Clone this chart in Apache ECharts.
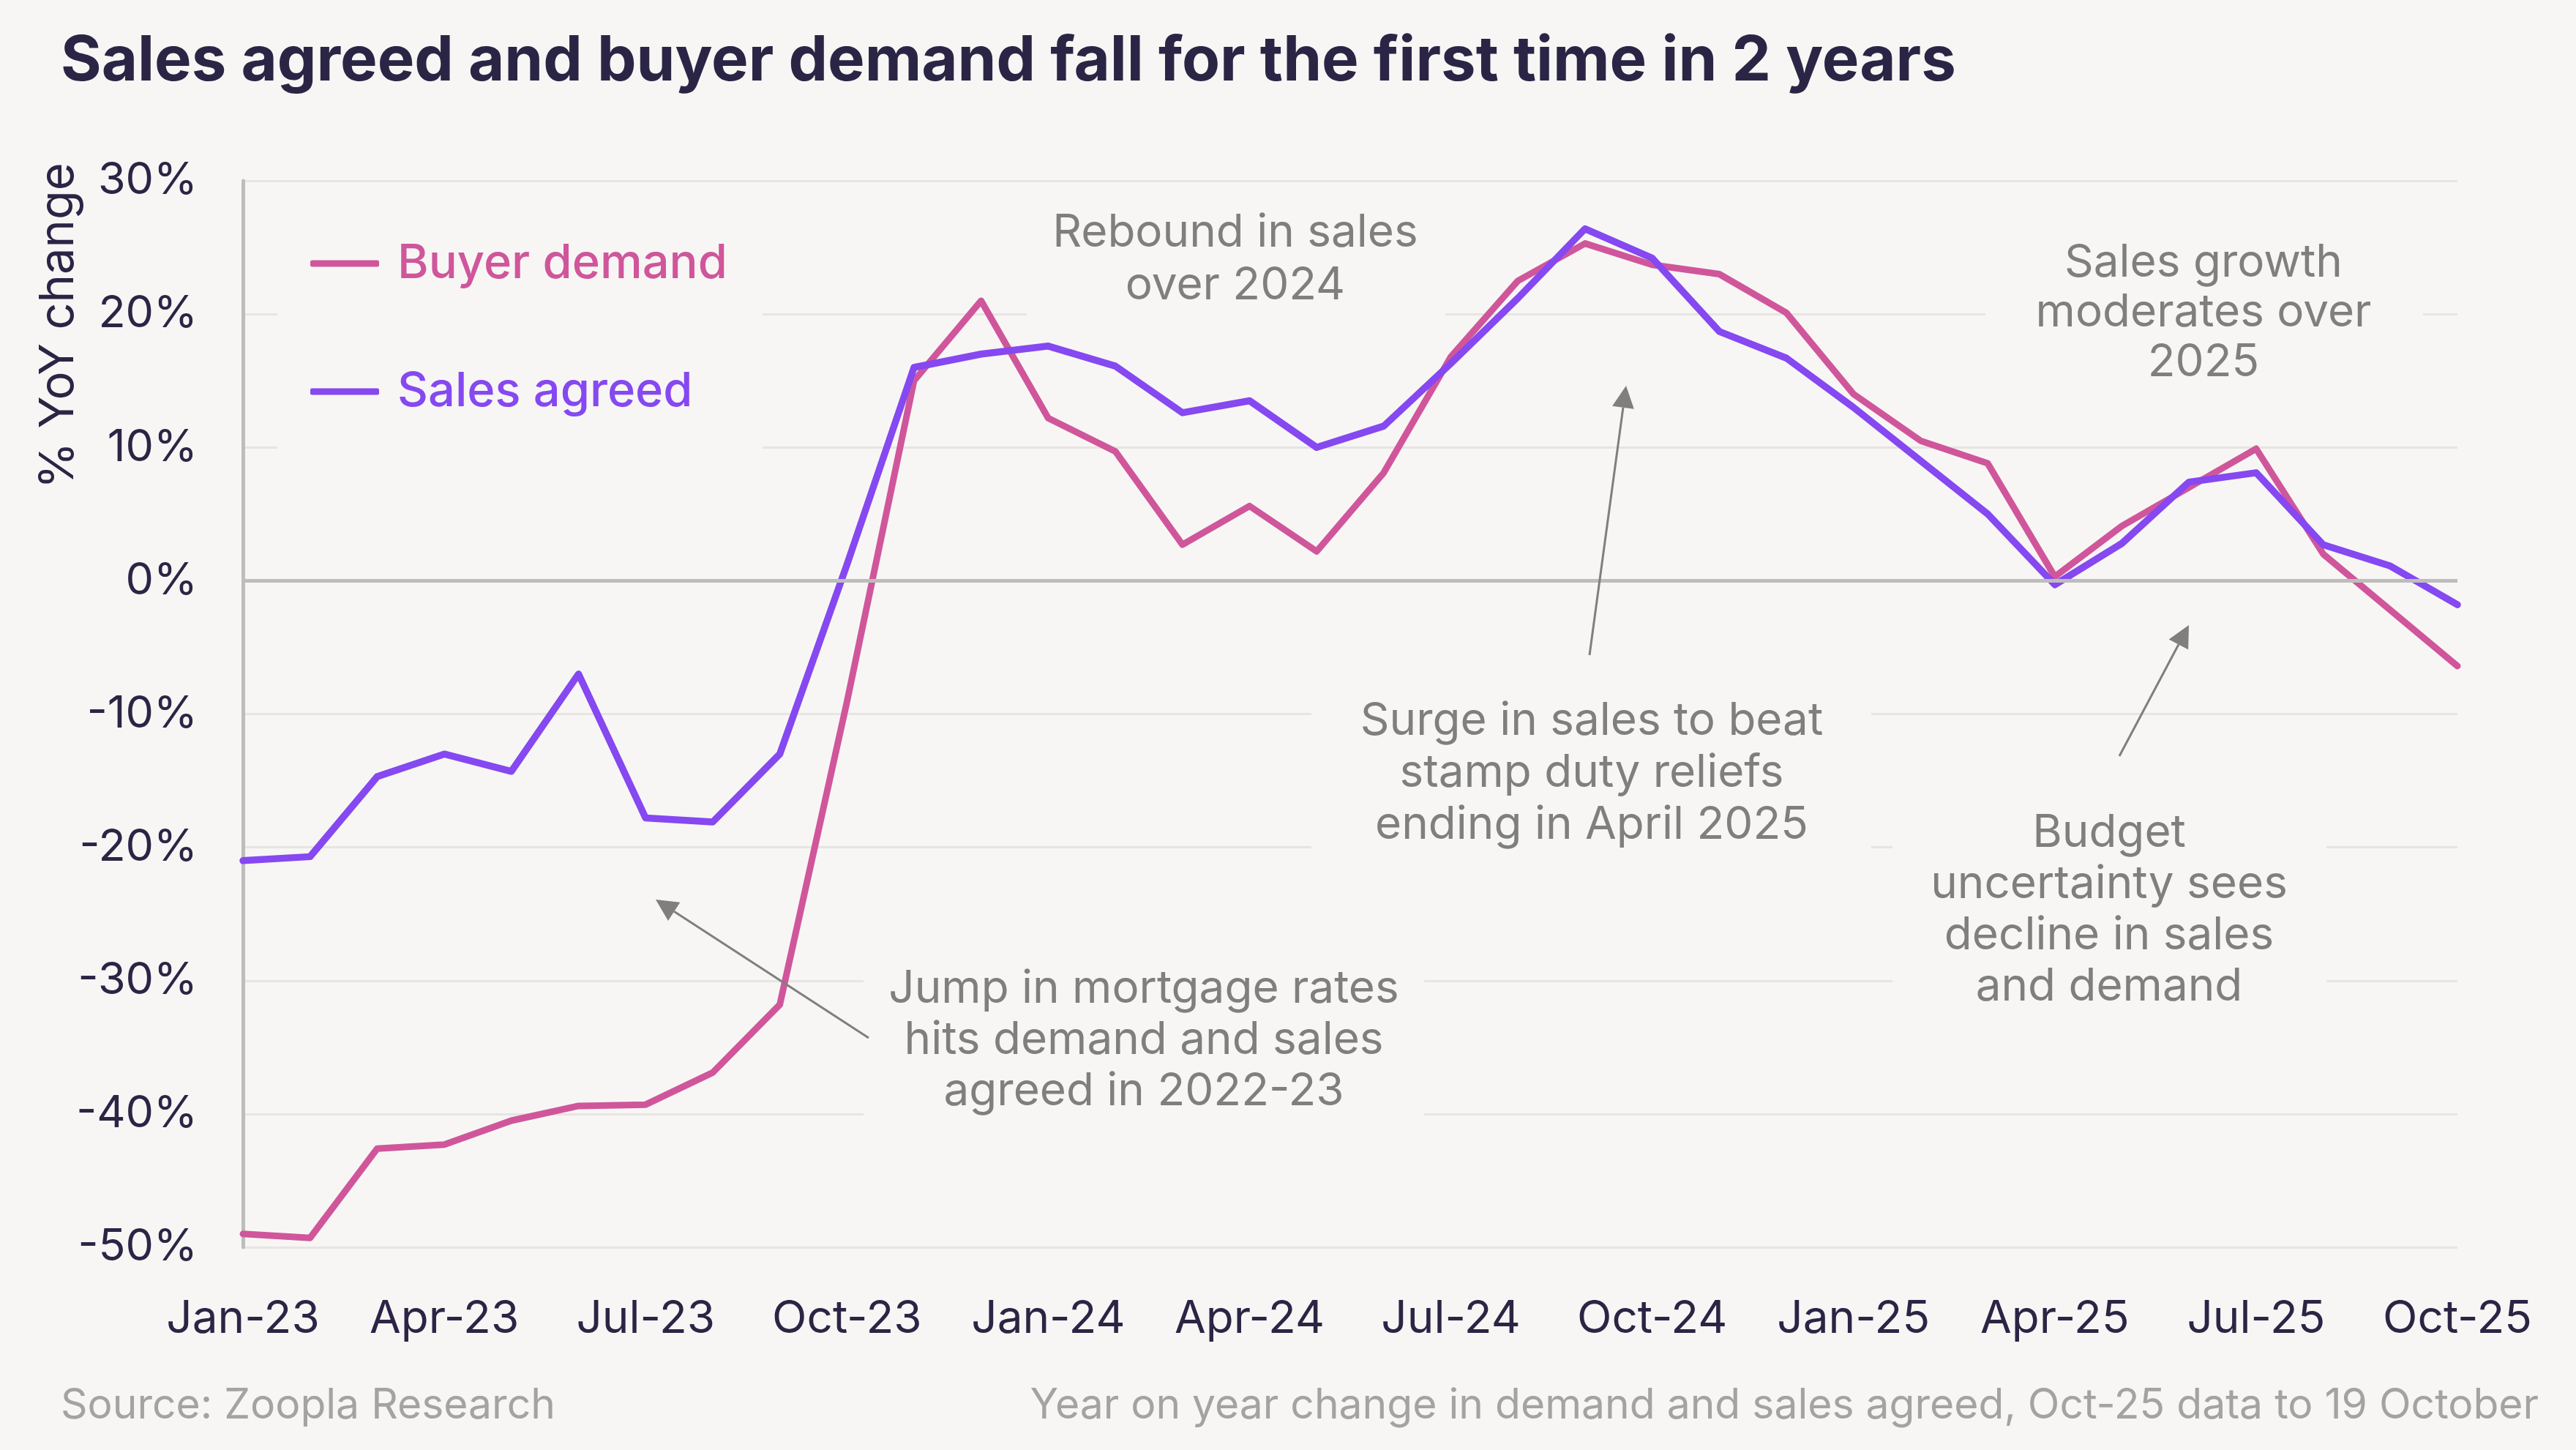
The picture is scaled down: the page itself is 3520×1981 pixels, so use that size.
<!DOCTYPE html>
<html>
<head>
<meta charset="utf-8">
<script src="https://cdn.jsdelivr.net/npm/echarts@6/dist/echarts.min.js"></script>
<style>
  html, body { margin: 0; padding: 0; background: #f7f6f4; }
  #chart { width: 3520px; height: 1981px; }
</style>
</head>
<body>
<div id="chart"></div>
<script>
// monthly YoY change, Jan-23 .. Oct-25
var months = ['Jan-23','Feb-23','Mar-23','Apr-23','May-23','Jun-23','Jul-23','Aug-23','Sep-23','Oct-23','Nov-23','Dec-23',
              'Jan-24','Feb-24','Mar-24','Apr-24','May-24','Jun-24','Jul-24','Aug-24','Sep-24','Oct-24','Nov-24','Dec-24',
              'Jan-25','Feb-25','Mar-25','Apr-25','May-25','Jun-25','Jul-25','Aug-25','Sep-25','Oct-25'];
var buyerDemand = [-49.0,-49.3,-42.6,-42.3,-40.5,-39.4,-39.3,-36.9,-31.8,-9.1,15.0,21.0,
                   12.2,9.7,2.7,5.6,2.2,8.1,16.8,22.5,25.3,23.7,23.0,20.1,
                   14.0,10.5,8.8,0.3,4.1,7.0,9.9,2.0,-2.2,-6.4];
var salesAgreed = [-21.0,-20.7,-14.7,-13.0,-14.3,-7.0,-17.8,-18.1,-13.0,1.2,16.0,17.0,
                   17.6,16.1,12.6,13.5,10.0,11.6,16.3,21.2,26.4,24.2,18.7,16.7,
                   13.0,9.0,5.0,-0.3,2.8,7.4,8.1,2.7,1.1,-1.8];
var yMin = -50, yMax = 30, yStep = 10;

var bg = '#f7f6f4';
var dark = '#2b2545';
var grey = '#7f7f7f';
var pink = '#d0569b';
var purple = '#8548f1';
var fontFam = 'Inter, "Noto Sans", sans-serif';

// annotation boxes hide the grid lines behind the text
function noteBox(x1, y1, x2, y2) {
  return { type: 'rect', z: 50, silent: true,
    shape: { x: x1, y: y1, width: x2 - x1, height: y2 - y1 },
    style: { fill: bg } };
}
function note(txt, cx, cy, lh) {
  return { type: 'text', z: 51, silent: true, x: cx, y: cy,
    style: { text: txt, fill: grey, fontSize: 62, fontFamily: fontFam, lineHeight: lh,
      align: 'center', verticalAlign: 'middle', textAlign: 'center', textVerticalAlign: 'middle' } };
}
function arrow(x1, y1, x2, y2) {
  var dx = x2 - x1, dy = y2 - y1;
  var len = Math.sqrt(dx * dx + dy * dy);
  var ux = dx / len, uy = dy / len;
  var bx = x2 - ux * 30, by = y2 - uy * 30;
  return [
    { type: 'line', z: 52, silent: true, shape: { x1: x1, y1: y1, x2: bx, y2: by },
      style: { stroke: grey, lineWidth: 3 } },
    { type: 'polygon', z: 52, silent: true,
      shape: { points: [[x2, y2], [bx - uy * 15, by + ux * 15], [bx + uy * 15, by - ux * 15]] },
      style: { fill: grey } }
  ];
}

var graphics = [
  { type: 'text', x: 83, y: 84, silent: true,
    style: { text: 'Sales agreed and buyer demand fall for the first time in 2 years', fill: dark,
      fontSize: 85, fontWeight: 700, fontFamily: fontFam,
      align: 'left', verticalAlign: 'middle', textAlign: 'left', textVerticalAlign: 'middle' } },
  { type: 'text', x: 80, y: 445, rotation: Math.PI / 2, silent: true,
    style: { text: '% YoY change', fill: dark, fontSize: 65, fontFamily: fontFam,
      align: 'center', verticalAlign: 'middle', textAlign: 'center', textVerticalAlign: 'middle' } },
  { type: 'text', x: 83, y: 1921, silent: true,
    style: { text: 'Source: Zoopla Research', fill: '#a3a3a3', fontSize: 57, fontFamily: fontFam,
      align: 'left', verticalAlign: 'middle', textAlign: 'left', textVerticalAlign: 'middle' } },
  { type: 'text', x: 3469, y: 1921, silent: true,
    style: { text: 'Year on year change in demand and sales agreed, Oct-25 data to 19 October', fill: '#a3a3a3',
      fontSize: 57, fontFamily: fontFam,
      align: 'right', verticalAlign: 'middle', textAlign: 'right', textVerticalAlign: 'middle' } },

  noteBox(1403, 275, 1975, 445),
  note('Rebound in sales\nover 2024', 1688, 354, 72),
  noteBox(2713, 300, 3311, 530),
  note('Sales growth\nmoderates over\n2025', 3011, 427, 68),
  noteBox(1792, 935, 2557, 1175),
  note('Surge in sales to beat\nstamp duty reliefs\nending in April 2025', 2175, 1056, 71),
  noteBox(2586, 1090, 3179, 1390),
  note('Budget\nuncertainty sees\ndecline in sales\nand demand', 2882, 1243, 70),
  noteBox(1180, 1300, 1946, 1540),
  note('Jump in mortgage rates\nhits demand and sales\nagreed in 2022-23', 1563, 1421, 70)
];
graphics = graphics.concat(arrow(1187, 1418, 896, 1229));
graphics = graphics.concat(arrow(2172, 895, 2222, 527));
graphics = graphics.concat(arrow(2896, 1033, 2991, 854));

var option = {
  backgroundColor: bg,
  animation: false,
  grid: { left: 332, right: 162, top: 247, bottom: 277 },
  legend: {
    orient: 'vertical',
    left: 379,
    top: 270,
    padding: [54, 48, 50, 45],
    itemGap: 103,
    itemWidth: 94,
    itemHeight: 9,
    icon: 'roundRect',
    backgroundColor: bg,
    selectedMode: false,
    z: 20,
    textStyle: { fontSize: 65, fontWeight: 500, fontFamily: fontFam, lineHeight: 72, padding: [0, 0, 0, 20] },
    data: [
      { name: 'Buyer demand', textStyle: { color: pink } },
      { name: 'Sales agreed', textStyle: { color: purple } }
    ]
  },
  xAxis: {
    type: 'category',
    data: months,
    boundaryGap: false,
    axisLine: { show: false },
    axisTick: { show: false },
    axisLabel: { interval: 2, color: dark, fontSize: 62, fontFamily: fontFam, margin: 67 },
    splitLine: { show: false }
  },
  yAxis: {
    type: 'value',
    min: yMin,
    max: yMax,
    interval: yStep,
    axisLine: { show: true, lineStyle: { color: '#bdbdbd', width: 5 } },
    axisTick: { show: false },
    axisLabel: { formatter: '{value}%', color: dark, fontSize: 61, fontFamily: fontFam, margin: 62 },
    splitLine: { lineStyle: { color: '#e7e5e2', width: 3 } }
  },
  series: [
    {
      name: 'zero',
      type: 'line',
      data: [],
      z: 1,
      silent: true,
      markLine: {
        silent: true,
        symbol: ['none', 'none'],
        label: { show: false },
        lineStyle: { color: '#bdbdbd', width: 5, type: 'solid' },
        data: [{ yAxis: 0 }]
      }
    },
    {
      name: 'Buyer demand',
      type: 'line',
      data: buyerDemand,
      color: pink,
      symbol: 'none',
      lineStyle: { width: 9, color: pink, cap: 'round', join: 'round' }
    },
    {
      name: 'Sales agreed',
      type: 'line',
      data: salesAgreed,
      color: purple,
      symbol: 'none',
      lineStyle: { width: 9.5, color: purple, cap: 'round', join: 'round' }
    }
  ],
  graphic: graphics
};

var myChart = echarts.init(document.getElementById('chart'));
myChart.setOption(option);
</script>
</body>
</html>
